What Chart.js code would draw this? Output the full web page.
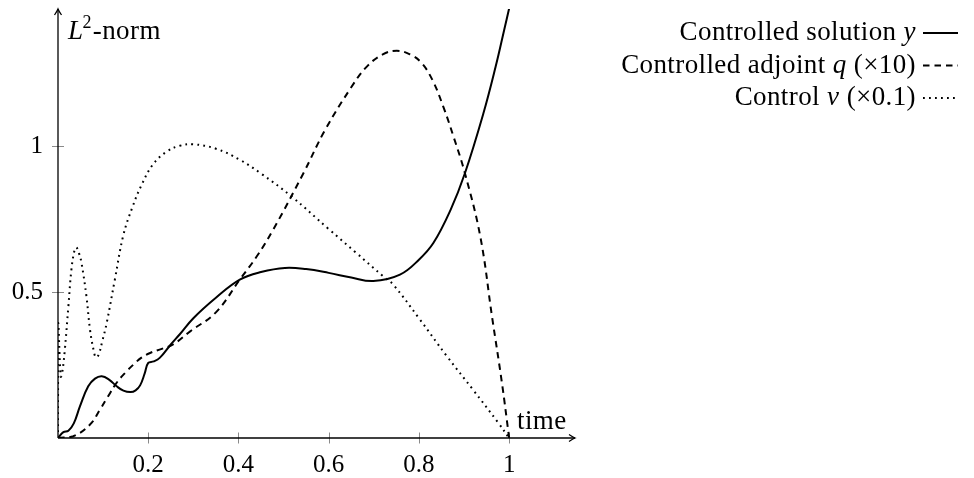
<!DOCTYPE html>
<html>
<head>
<meta charset="utf-8">
<script src="https://cdn.jsdelivr.net/npm/chart.js@4.4.0/dist/chart.umd.min.js"></script>
<style>
  html, body { margin: 0; padding: 0; background: #fff; }
  #wrap { width: 974px; height: 478px; position: relative; }
</style>
</head>
<body>
<div id="wrap"><canvas id="c"></canvas></div>
<script>
// L2-Norm über der Zeit, drei Kurven
const solutionX = [0, 0.012, 0.023, 0.035, 0.049, 0.067, 0.082, 0.097, 0.113, 0.13, 0.145, 0.161, 0.172, 0.182, 0.192, 0.2, 0.212, 0.226, 0.25, 0.27, 0.3, 0.35, 0.403, 0.45, 0.503, 0.55, 0.6, 0.65, 0.699, 0.758, 0.8, 0.832, 0.87, 0.902, 0.943, 0.97, 0.989, 1.0];
const solutionY = [0, 0.02, 0.025, 0.05, 0.11, 0.177, 0.203, 0.211, 0.2, 0.177, 0.162, 0.157, 0.163, 0.18, 0.22, 0.257, 0.262, 0.275, 0.32, 0.355, 0.41, 0.48, 0.542, 0.568, 0.582, 0.578, 0.565, 0.549, 0.537, 0.559, 0.61, 0.667, 0.78, 0.906, 1.111, 1.27, 1.396, 1.47];

const adjointX = [0, 0.034, 0.071, 0.093, 0.11, 0.13, 0.15, 0.167, 0.185, 0.204, 0.23, 0.255, 0.293, 0.35, 0.403, 0.44, 0.477, 0.544, 0.592, 0.65, 0.684, 0.72, 0.751, 0.78, 0.805, 0.83, 0.854, 0.877, 0.902, 0.936, 0.962, 0.984, 1.0];
const adjointY = [0, 0.006, 0.046, 0.097, 0.14, 0.189, 0.225, 0.251, 0.275, 0.291, 0.305, 0.32, 0.365, 0.43, 0.542, 0.62, 0.713, 0.906, 1.054, 1.2, 1.27, 1.313, 1.325, 1.313, 1.285, 1.225, 1.134, 1.03, 0.906, 0.69, 0.416, 0.189, 0];

const controlX = [0, 0.0005, 0.006, 0.009, 0.015, 0.023, 0.03, 0.037, 0.041, 0.047, 0.052, 0.063, 0.071, 0.079, 0.084, 0.09, 0.098, 0.108, 0.126, 0.145, 0.165, 0.185, 0.21, 0.241, 0.27, 0.3, 0.35, 0.403, 0.45, 0.518, 0.6, 0.66, 0.721, 0.743, 0.8, 0.862, 0.92, 0.976, 1.0];
const controlY = [0, 0.39, 0.21, 0.22, 0.3, 0.45, 0.58, 0.645, 0.652, 0.63, 0.6, 0.485, 0.37, 0.3, 0.276, 0.285, 0.33, 0.394, 0.542, 0.695, 0.79, 0.865, 0.935, 0.98, 1.0, 1.005, 0.99, 0.952, 0.905, 0.826, 0.715, 0.635, 0.553, 0.525, 0.41, 0.28, 0.165, 0.052, 0];

const xTicks = [0.2, 0.4, 0.6, 0.8, 1];
const yTicks = [0.5, 1];
const xTickLabels = ["0.2", "0.4", "0.6", "0.8", "1"];
const yTickLabels = ["0.5", "1"];

// Legendentext in Stücke: [Text, kursiv?]
const legendParts = [
    [["Controlled solution ", false], ["y", true]],
    [["Controlled adjoint ", false], ["q", true], [" (×10)", false]],
    [["Control ", false], ["v", true], [" (×0.1)", false]]
];

const SERIF = "'Liberation Serif', 'DejaVu Serif', serif";

function pts(xs, ys) {
    return xs.map((x, i) => ({ x: x, y: ys[i] }));
}

// Text aus Stücken, rechtsbündig
function drawParts(ctx, parts, xRight, y, size) {
    let w = 0;
    parts.forEach(p => {
        ctx.font = (p[1] ? "italic " : "") + size + "px " + SERIF;
        w += ctx.measureText(p[0]).width;
    });
    let x = xRight - w;
    parts.forEach(p => {
        ctx.font = (p[1] ? "italic " : "") + size + "px " + SERIF;
        ctx.fillText(p[0], x, y);
        x += ctx.measureText(p[0]).width;
    });
}

function arrowHead(ctx, x, y, dir) {
    // kleine "to"-Spitze wie bei pgf
    ctx.beginPath();
    if (dir === "right") {
        ctx.moveTo(x - 6, y - 3.5);
        ctx.quadraticCurveTo(x - 2, y - 0.8, x, y);
        ctx.quadraticCurveTo(x - 2, y + 0.8, x - 6, y + 3.5);
    } else {
        ctx.moveTo(x - 3.5, y + 6);
        ctx.quadraticCurveTo(x - 0.8, y + 2, x, y);
        ctx.quadraticCurveTo(x + 0.8, y + 2, x + 3.5, y + 6);
    }
    ctx.stroke();
}

const axesPlugin = {
    id: "axesPlugin",
    beforeDatasetsDraw(chart) {
        const ctx = chart.ctx;
        const xs = chart.scales.x, ys = chart.scales.y;
        const { right, top } = chart.chartArea;
        const x0 = xs.getPixelForValue(0);
        const y0 = ys.getPixelForValue(0);

        ctx.save();
        // Tick-Striche grau
        ctx.strokeStyle = "#8a8a8a";
        ctx.lineWidth = 1;
        xTicks.forEach(t => {
            const px = Math.round(xs.getPixelForValue(t)) + 0.5;
            ctx.beginPath(); ctx.moveTo(px, y0 - 5.5); ctx.lineTo(px, y0 + 5.5); ctx.stroke();
        });
        yTicks.forEach(t => {
            const py = Math.round(ys.getPixelForValue(t)) + 0.5;
            ctx.beginPath(); ctx.moveTo(x0 - 6, py); ctx.lineTo(x0 + 6, py); ctx.stroke();
        });

        // Achsen
        ctx.strokeStyle = "#000";
        ctx.lineWidth = 1.3;
        ctx.beginPath(); ctx.moveTo(x0, y0); ctx.lineTo(right, y0); ctx.stroke();
        ctx.beginPath(); ctx.moveTo(x0, y0); ctx.lineTo(x0, top); ctx.stroke();
        arrowHead(ctx, right, y0, "right");
        arrowHead(ctx, x0, top, "up");

        // Tick-Beschriftung
        ctx.fillStyle = "#000";
        ctx.font = "25px " + SERIF;
        ctx.textAlign = "center";
        ctx.textBaseline = "alphabetic";
        xTicks.forEach((t, i) => {
            ctx.fillText(xTickLabels[i], xs.getPixelForValue(t), y0 + 33.5);
        });
        ctx.textAlign = "right";
        ctx.textBaseline = "middle";
        yTicks.forEach((t, i) => {
            ctx.fillText(yTickLabels[i], x0 - 15, ys.getPixelForValue(t) + 1);
        });

        // Achsentitel
        ctx.textAlign = "left";
        ctx.textBaseline = "alphabetic";
        ctx.letterSpacing = "0.4px";
        ctx.font = "27px " + SERIF;
        ctx.fillText("time", x0 + 459, y0 - 9);
        ctx.font = "italic 27px " + SERIF;
        ctx.fillText("L", x0 + 10, 39);
        let lx = x0 + 10 + ctx.measureText("L").width - 1;
        ctx.font = "18px " + SERIF;
        ctx.fillText("2", lx, 28);
        lx += ctx.measureText("2").width + 1;
        ctx.font = "27px " + SERIF;
        ctx.fillText("-norm", lx, 39);
        ctx.restore();
    }
};

// Legende rechts: Text rechtsbündig, Linienmuster dahinter
const legendPlugin = {
    id: "legendPlugin",
    afterDraw(chart) {
        const ctx = chart.ctx;
        const rowY = [33, 65.5, 98];
        ctx.save();
        ctx.letterSpacing = "0.4px";
        chart.data.datasets.forEach((ds, i) => {
            ctx.fillStyle = "#000";
            ctx.textAlign = "left";
            ctx.textBaseline = "alphabetic";
            drawParts(ctx, legendParts[i], 916, rowY[i] + 7, 27);
            ctx.strokeStyle = "#000";
            ctx.lineWidth = ds.borderWidth;
            ctx.setLineDash(ds.borderDash || []);
            ctx.beginPath();
            ctx.moveTo(923, rowY[i]);
            ctx.lineTo(958, rowY[i]);
            ctx.stroke();
        });
        ctx.restore();
    }
};

new Chart(document.getElementById("c"), {
    type: "line",
    plugins: [axesPlugin, legendPlugin],
    data: {
        datasets: [
            {
                label: "Controlled solution y",
                data: pts(solutionX, solutionY),
                borderColor: "#000",
                borderWidth: 2,
                tension: 0.4
            },
            {
                label: "Controlled adjoint q (×10)",
                data: pts(adjointX, adjointY),
                borderColor: "#000",
                borderWidth: 2,
                borderDash: [6.5, 5],
                tension: 0.4
            },
            {
                label: "Control v (×0.1)",
                data: pts(controlX, controlY),
                borderColor: "#000",
                borderWidth: 2,
                borderDash: [1.8, 4.2],
                tension: 0.4
            }
        ]
    },
    options: {
        responsive: true,
        maintainAspectRatio: false,
        animation: false,
        parsing: false,
        layout: { padding: { left: 58, right: 399, top: 9, bottom: 40 } },
        elements: { point: { radius: 0 } },
        scales: {
            x: { type: "linear", min: 0, max: 1.146, display: false },
            y: { type: "linear", min: 0, max: 1.468, display: false }
        },
        plugins: {
            legend: { display: false },
            tooltip: { enabled: false }
        }
    }
});
</script>
</body>
</html>
